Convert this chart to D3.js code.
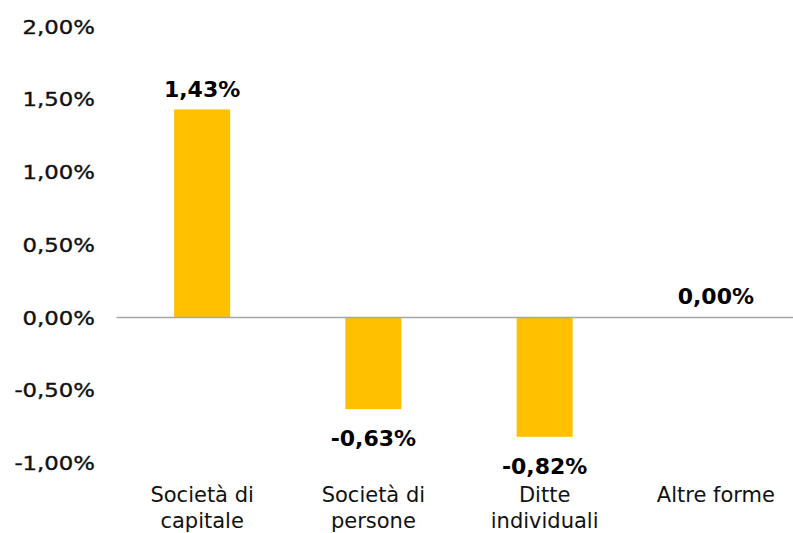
<!DOCTYPE html>
<html>
<head>
<meta charset="utf-8">
<script src="https://cdn.jsdelivr.net/npm/d3@7"></script>
<style>
  body { margin: 0; background: #fff; }
  svg { display: block; }
</style>
</head>
<body>
<svg id="chart" width="793" height="533"></svg>
<script>
// ***** Data *****
const categories = [["Società di", "capitale"], ["Società di", "persone"], ["Ditte", "individuali"], ["Altre forme"]];
const values = [1.43, -0.63, -0.82, 0.0];
const tickValues = [-1, -0.5, 0, 0.5, 1, 1.5, 2];

const width = 793, height = 533;
const svg = d3.select("#chart");

// italian style percent format: 1,43%
const fmt = function(v) {
  return d3.format(".2f")(v).replace(".", ",").replace("−", "-") + "%";
};

// ***** Scales *****
const xScale = d3.scaleBand()
  .domain(d3.range(categories.length))
  .range([116.5, 801.5])
  .paddingInner(0.673)
  .paddingOuter(0.3365);

const yScale = d3.scaleLinear()
  .domain([-1, 2])
  .range([463, 26.5]);

// ***** Y axis (labels only) *****
const yAxis = d3.axisLeft(yScale)
  .tickValues(tickValues)
  .tickSize(0)
  .tickPadding(0)
  .tickFormat(fmt);

const yAxisG = svg.append("g")
  .attr("transform", "translate(95,0)")
  .call(yAxis);
yAxisG.select(".domain").remove();
yAxisG.selectAll("text")
  .attr("x", 0)
  .attr("dy", "0.35em")
  .attr("transform", "scale(1.2,1)")
  .style("font-family", "DejaVu Sans")
  .style("font-size", "19px")
  .style("fill", "#111")
  .style("stroke", "#111")
  .style("stroke-width", 0.35);

// ***** Bars *****
svg.selectAll(".bar")
  .data(values)
  .enter()
  .append("rect")
  .attr("class", "bar")
  .attr("x", function(d, i) { return xScale(i); })
  .attr("width", xScale.bandwidth())
  .attr("y", function(d) { return yScale(Math.max(0, d)); })
  .attr("height", function(d) { return Math.abs(yScale(d) - yScale(0)); })
  .style("fill", "#FFC000");

// zero line
svg.append("line")
  .attr("x1", 116.5)
  .attr("x2", width)
  .attr("y1", yScale(0))
  .attr("y2", yScale(0))
  .style("stroke", "#a6a6a6")
  .style("stroke-width", 1.5);

// ***** Value labels *****
svg.selectAll(".valueLabel")
  .data(values)
  .enter()
  .append("text")
  .attr("class", "valueLabel")
  .attr("x", function(d, i) { return xScale(i) + xScale.bandwidth() / 2; })
  .attr("y", function(d) {
    if (d < 0) return yScale(d) + 37;
    if (d === 0) return yScale(0) - 14;
    return yScale(d) - 12;
  })
  .attr("text-anchor", "middle")
  .style("font-family", "DejaVu Sans")
  .style("font-weight", "bold")
  .style("font-size", "22px")
  .style("fill", "#000")
  .text(function(d) { return fmt(d); });

// ***** Category labels *****
const catG = svg.selectAll(".catLabel")
  .data(categories)
  .enter()
  .append("text")
  .attr("class", "catLabel")
  .attr("text-anchor", "middle")
  .style("font-family", "DejaVu Sans")
  .style("font-size", "21px")
  .style("fill", "#111");

catG.selectAll("tspan")
  .data(function(d, i) { return d.map(function(line) { return { line: line, i: i }; }); })
  .enter()
  .append("tspan")
  .attr("x", function(d) { return xScale(d.i) + xScale.bandwidth() / 2; })
  .attr("y", function(d, j) { return 502 + j * 26; })
  .text(function(d) { return d.line; });
</script>
</body>
</html>
